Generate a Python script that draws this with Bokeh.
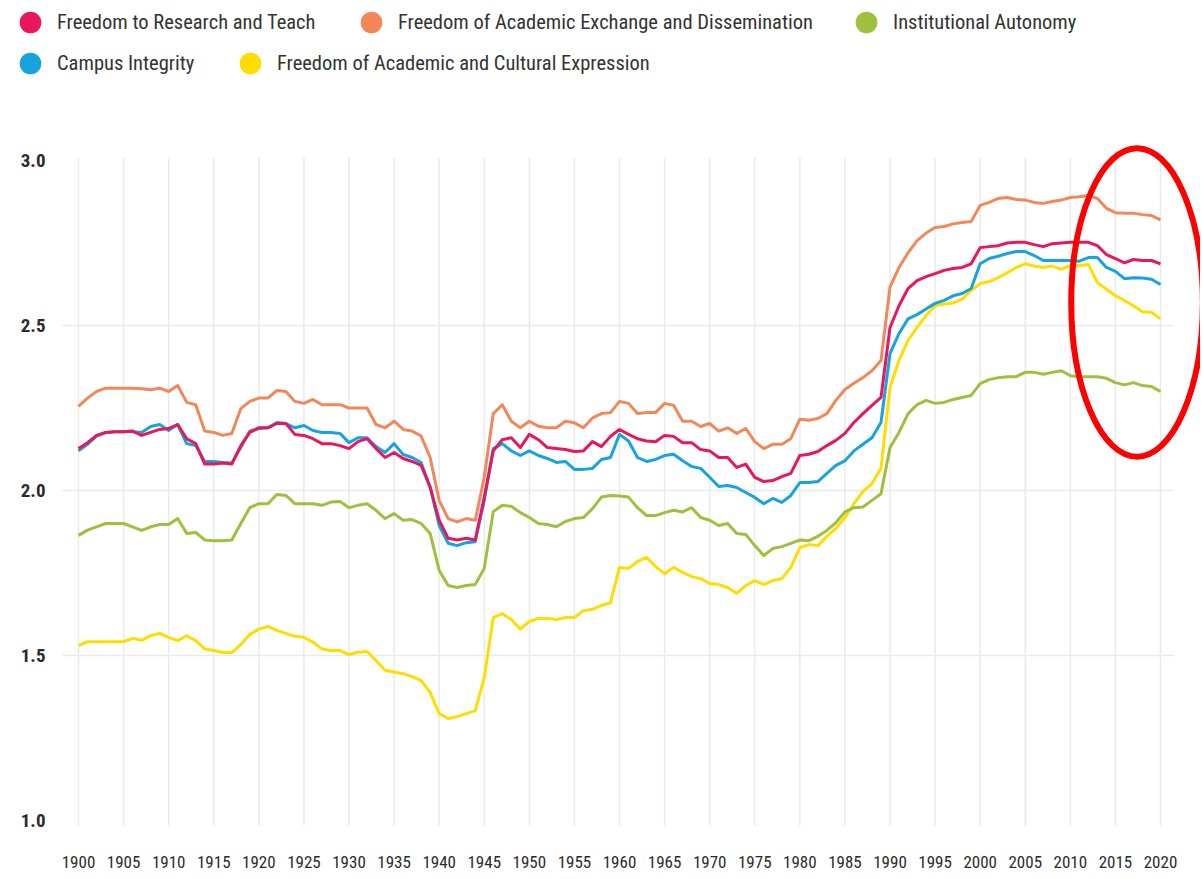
from bokeh.plotting import figure
from bokeh.models import (Range1d, FixedTicker, PrintfTickFormatter, Legend, LegendItem,
                          ColumnDataSource)
from bokeh.embed import file_html
from bokeh.resources import INLINE

# ---------------- data ----------------
years = list(range(1900, 2021))
tick_years = list(range(1900, 2021, 5))
y_ticks = [1.0, 1.5, 2.0, 2.5, 3.0]
grid_values = [1.5, 2.0, 2.5]

research_teach = [
    2.127, 2.145, 2.167, 2.176, 2.178, 2.178, 2.180, 2.167, 2.176, 2.185,
    2.188, 2.200, 2.157, 2.142, 2.080, 2.080, 2.083, 2.080, 2.136, 2.176,
    2.190, 2.190, 2.203, 2.203, 2.170, 2.167, 2.157, 2.142, 2.142, 2.136,
    2.127, 2.148, 2.157, 2.127, 2.100, 2.115, 2.097, 2.088, 2.076, 2.010,
    1.910, 1.855, 1.850, 1.855, 1.850, 1.980, 2.120, 2.154, 2.160, 2.130,
    2.170, 2.154, 2.130, 2.127, 2.124, 2.118, 2.120, 2.148, 2.133, 2.164,
    2.185, 2.170, 2.157, 2.150, 2.148, 2.167, 2.164, 2.145, 2.145, 2.124,
    2.120, 2.100, 2.100, 2.070, 2.080, 2.040, 2.027, 2.030, 2.042, 2.052,
    2.106, 2.110, 2.118, 2.136, 2.152, 2.173, 2.206, 2.233, 2.258, 2.282,
    2.494, 2.560, 2.612, 2.636, 2.648, 2.657, 2.667, 2.673, 2.676, 2.687,
    2.736, 2.739, 2.742, 2.750, 2.752, 2.752, 2.745, 2.739, 2.748, 2.750,
    2.752, 2.752, 2.752, 2.742, 2.715, 2.703, 2.690, 2.700, 2.697, 2.697,
    2.687]

exchange_dissemination = [
    2.255, 2.280, 2.300, 2.310, 2.310, 2.310, 2.310, 2.308, 2.305, 2.310,
    2.300, 2.318, 2.267, 2.260, 2.180, 2.176, 2.167, 2.173, 2.248, 2.270,
    2.280, 2.280, 2.303, 2.300, 2.270, 2.264, 2.276, 2.260, 2.260, 2.260,
    2.250, 2.250, 2.250, 2.200, 2.190, 2.210, 2.185, 2.180, 2.165, 2.100,
    1.970, 1.915, 1.905, 1.915, 1.910, 2.040, 2.233, 2.260, 2.210, 2.190,
    2.210, 2.195, 2.190, 2.190, 2.210, 2.205, 2.190, 2.220, 2.233, 2.236,
    2.270, 2.264, 2.233, 2.236, 2.236, 2.264, 2.258, 2.210, 2.210, 2.194,
    2.203, 2.180, 2.190, 2.173, 2.188, 2.148, 2.127, 2.140, 2.140, 2.157,
    2.216, 2.213, 2.218, 2.233, 2.273, 2.306, 2.325, 2.342, 2.363, 2.394,
    2.616, 2.676, 2.720, 2.757, 2.780, 2.797, 2.800, 2.808, 2.812, 2.815,
    2.864, 2.873, 2.885, 2.888, 2.882, 2.880, 2.873, 2.870, 2.876, 2.880,
    2.888, 2.890, 2.894, 2.885, 2.855, 2.842, 2.840, 2.840, 2.836, 2.833,
    2.820]

institutional_autonomy = [
    1.864, 1.880, 1.890, 1.900, 1.900, 1.900, 1.890, 1.879, 1.890, 1.897,
    1.897, 1.915, 1.870, 1.873, 1.850, 1.848, 1.848, 1.850, 1.900, 1.948,
    1.960, 1.960, 1.988, 1.985, 1.960, 1.960, 1.960, 1.955, 1.965, 1.967,
    1.948, 1.955, 1.960, 1.940, 1.915, 1.930, 1.910, 1.912, 1.900, 1.870,
    1.758, 1.712, 1.706, 1.712, 1.715, 1.764, 1.936, 1.955, 1.952, 1.933,
    1.918, 1.900, 1.897, 1.890, 1.906, 1.915, 1.918, 1.945, 1.980, 1.985,
    1.983, 1.980, 1.948, 1.924, 1.924, 1.933, 1.940, 1.935, 1.948, 1.918,
    1.910, 1.894, 1.900, 1.870, 1.867, 1.833, 1.803, 1.824, 1.830, 1.840,
    1.850, 1.848, 1.861, 1.879, 1.903, 1.935, 1.948, 1.950, 1.970, 1.990,
    2.130, 2.176, 2.233, 2.260, 2.273, 2.264, 2.267, 2.276, 2.282, 2.288,
    2.324, 2.336, 2.342, 2.345, 2.345, 2.358, 2.358, 2.352, 2.358, 2.363,
    2.348, 2.345, 2.345, 2.345, 2.340, 2.327, 2.320, 2.327, 2.318, 2.315,
    2.300]

campus_integrity = [
    2.120, 2.140, 2.165, 2.175, 2.178, 2.178, 2.178, 2.176, 2.194, 2.200,
    2.182, 2.200, 2.142, 2.136, 2.088, 2.088, 2.085, 2.083, 2.130, 2.180,
    2.188, 2.190, 2.206, 2.203, 2.190, 2.197, 2.182, 2.176, 2.176, 2.173,
    2.145, 2.160, 2.160, 2.133, 2.115, 2.142, 2.109, 2.100, 2.085, 2.010,
    1.894, 1.840, 1.833, 1.842, 1.845, 1.970, 2.127, 2.142, 2.120, 2.106,
    2.120, 2.106, 2.097, 2.085, 2.088, 2.064, 2.064, 2.067, 2.094, 2.100,
    2.170, 2.150, 2.100, 2.088, 2.094, 2.106, 2.110, 2.090, 2.073, 2.067,
    2.040, 2.012, 2.015, 2.009, 1.994, 1.979, 1.960, 1.976, 1.964, 1.985,
    2.024, 2.024, 2.027, 2.052, 2.076, 2.090, 2.120, 2.140, 2.160, 2.206,
    2.415, 2.476, 2.520, 2.533, 2.550, 2.567, 2.576, 2.590, 2.597, 2.612,
    2.687, 2.703, 2.710, 2.718, 2.724, 2.724, 2.712, 2.697, 2.697, 2.697,
    2.697, 2.695, 2.706, 2.706, 2.676, 2.664, 2.642, 2.645, 2.644, 2.640,
    2.624]

cultural_expression = [
    1.530, 1.542, 1.542, 1.542, 1.542, 1.542, 1.552, 1.546, 1.560, 1.567,
    1.555, 1.545, 1.560, 1.545, 1.520, 1.515, 1.509, 1.509, 1.533, 1.564,
    1.580, 1.588, 1.576, 1.567, 1.558, 1.555, 1.540, 1.520, 1.515, 1.515,
    1.503, 1.510, 1.512, 1.485, 1.455, 1.450, 1.445, 1.436, 1.424, 1.388,
    1.324, 1.309, 1.315, 1.324, 1.333, 1.433, 1.615, 1.627, 1.609, 1.580,
    1.603, 1.612, 1.612, 1.609, 1.615, 1.615, 1.636, 1.640, 1.652, 1.660,
    1.767, 1.764, 1.785, 1.797, 1.770, 1.748, 1.767, 1.752, 1.739, 1.733,
    1.718, 1.715, 1.706, 1.688, 1.712, 1.727, 1.715, 1.727, 1.733, 1.767,
    1.827, 1.836, 1.833, 1.861, 1.885, 1.918, 1.960, 1.997, 2.021, 2.067,
    2.312, 2.394, 2.455, 2.494, 2.530, 2.560, 2.565, 2.568, 2.580, 2.606,
    2.627, 2.633, 2.645, 2.660, 2.676, 2.687, 2.680, 2.676, 2.680, 2.670,
    2.682, 2.682, 2.685, 2.630, 2.610, 2.590, 2.576, 2.560, 2.542, 2.540,
    2.520]

series_names = ["Freedom to Research and Teach",
                "Freedom of Academic Exchange and Dissemination",
                "Institutional Autonomy",
                "Campus Integrity",
                "Freedom of Academic and Cultural Expression"]
series_values = [research_teach, exchange_dissemination, institutional_autonomy,
                 campus_integrity, cultural_expression]
series_colors = ["#E8175D", "#F4875A", "#9DC13D", "#17A4DE", "#FFDD00"]

# ---------------- styling / layout ----------------
FONT = "Roboto Condensed"
TEXT_COLOR = "#333333"
W, H = 1200, 877
ML, MB = 10, 28                 # frame starts near the left edge (legend lives in it)
YLABEL_RIGHT = 45               # right edge of the y tick labels (page px)
PX_PER_YEAR = 1082 / 120.0
PX_PER_UNIT = 330.0
frame_w = W - ML
frame_h = H - MB
x0_year = 1900 - (78 - ML) / PX_PER_YEAR
x1_year = x0_year + frame_w / PX_PER_YEAR
y1_val = 3.0 + 160 / PX_PER_UNIT
y0_val = y1_val - frame_h / PX_PER_UNIT

p = figure(width=W, height=H, output_backend="svg", toolbar_location=None,
           x_range=Range1d(x0_year, x1_year), y_range=Range1d(y0_val, y1_val),
           min_border_left=ML, min_border_right=0, min_border_top=0,
           min_border_bottom=MB)
p.outline_line_color = None
p.xgrid.visible = False
p.ygrid.visible = False
p.background_fill_color = "white"
p.border_fill_color = "white"

GRID_COLOR = "#e9ebeb"
hx0 = 1900 - 16 / PX_PER_YEAR
hx1 = 2020 + 14 / PX_PER_YEAR
p.segment(x0=[hx0] * len(grid_values), x1=[hx1] * len(grid_values),
          y0=grid_values, y1=grid_values, line_color=GRID_COLOR, line_width=1.5)
vy0 = 1.0 - 5 / PX_PER_UNIT
vy1 = 3.0 + 3 / PX_PER_UNIT
p.segment(x0=tick_years, x1=tick_years, y0=[vy0] * len(tick_years),
          y1=[vy1] * len(tick_years), line_color=GRID_COLOR, line_width=1.5)

p.xaxis.ticker = FixedTicker(ticks=tick_years)
p.yaxis.ticker = FixedTicker(ticks=y_ticks)
p.yaxis.formatter = PrintfTickFormatter(format="%.1f")
for ax in (p.xaxis[0], p.yaxis[0]):
    ax.axis_line_color = None
    ax.major_tick_line_color = None
    ax.minor_tick_line_color = None
    ax.major_tick_out = 0
    ax.major_tick_in = 0
    ax.major_label_text_color = "#2b2b2b"
    ax.major_label_text_font = FONT
p.xaxis.major_label_text_font_size = "17px"
p.xaxis.major_label_standoff = 6
p.yaxis.major_label_text_font_size = "19px"
p.yaxis.major_label_text_font_style = "bold"
p.yaxis.major_label_standoff = -(YLABEL_RIGHT - ML)

for idx in [4, 2, 1, 3, 0]:
    src = ColumnDataSource(dict(x=years, y=series_values[idx]))
    p.line("x", "y", source=src, line_color=series_colors[idx],
           line_width=3, line_join="round")

# red highlight ellipse around the latest decade
p.ellipse(x=[2017.4], y=[2.57], width=[14.6], height=[0.935],
          fill_color=None, line_color="#FF0000", line_width=6)

# legend: one legend box per item, circle glyphs
legend_centers = [(30, 22), (371, 22), (866, 22), (30, 63), (250, 63)]
G = 54
for idx, (cx, cy) in enumerate(legend_centers):
    dummy = p.scatter(x=years[:1], y=series_values[idx][:1], marker="circle", size=0,
                      fill_color=series_colors[idx], line_color=None)
    vx = cx - G / 2 - ML
    vy = frame_h - (cy + G / 2)
    leg = Legend(items=[LegendItem(label=series_names[idx], renderers=[dummy])],
                 location=(vx, vy), glyph_width=G, glyph_height=G, padding=0,
                 margin=0, spacing=0, label_standoff=0, border_line_color=None,
                 background_fill_alpha=0, label_text_font=FONT,
                 label_text_font_size="20.5px", label_text_color=TEXT_COLOR)
    p.add_layout(leg)

open("out.html", "w").write(file_html(p, INLINE))
